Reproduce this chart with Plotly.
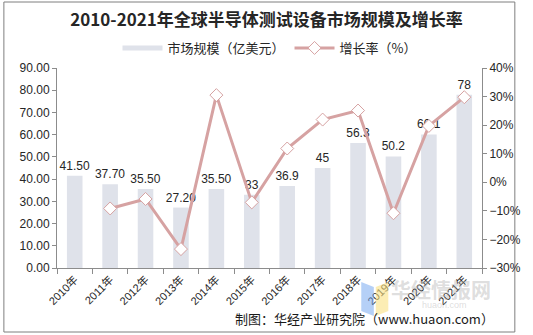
import plotly.graph_objects as go

years = ["2010年", "2011年", "2012年", "2013年", "2014年", "2015年",
         "2016年", "2017年", "2018年", "2019年", "2020年", "2021年"]
market_size = [41.5, 37.7, 35.5, 27.2, 35.5, 33.0, 36.9, 45.0, 56.3, 50.2, 60.1, 78.0]
size_labels = ["41.50", "37.70", "35.50", "27.20", "35.50", "33",
               "36.9", "45", "56.3", "50.2", "60.1", "78"]
growth_years = years[1:]
growth_rate = [-9.16, -5.84, -23.38, 30.51, -7.04, 11.82, 21.95, 25.11, -10.83, 19.72, 29.78]

BAR_COLOR = "#dfe2ea"
LINE_COLOR = "#d6a2a2"
TEXT_COLOR = "#262626"
AXIS_COLOR = "#8c8c8c"
FONT = "Liberation Sans, Noto Sans CJK SC, sans-serif"

fig = go.Figure()

fig.add_trace(go.Bar(
    x=years, y=market_size, name="市场规模（亿美元）", showlegend=False,
    marker=dict(color=BAR_COLOR, line=dict(width=0)),
    width=0.44,
    text=size_labels, textposition="outside", cliponaxis=False, constraintext="none",
    textfont=dict(size=12, color=TEXT_COLOR, family=FONT),
))

# legend key for the bars: a flat wide swatch
fig.add_trace(go.Scatter(
    x=[None], y=[None], name="市场规模（亿美元）", mode="lines",
    line=dict(color=BAR_COLOR, width=5),
))

fig.add_trace(go.Scatter(
    x=growth_years, y=growth_rate, name="增长率（%）", yaxis="y2",
    mode="lines+markers",
    line=dict(color=LINE_COLOR, width=3),
    marker=dict(symbol="diamond", size=10, color="white",
                line=dict(color=LINE_COLOR, width=1)),
    cliponaxis=False,
))

# plot area spans 57..497 px horizontally and 68..268 px vertically
def px_x(x):
    return (x - 57) / 440

def px_y(y):
    return (268 - y) / 200

shapes = [
    # outer frame
    dict(type="rect", xref="paper", yref="paper",
         x0=px_x(2), x1=px_x(531), y0=px_y(332), y1=px_y(2),
         line=dict(color="#7f7f7f", width=1), fillcolor="rgba(0,0,0,0)", layer="below"),
    # watermark logo blocks
    dict(type="path", xref="paper", yref="paper",
         path=f"M {px_x(372)},{px_y(282)} L {px_x(385)},{px_y(287)} L {px_x(385)},{px_y(316)} L {px_x(372)},{px_y(311)} Z",
         fillcolor="rgba(120,170,240,0.55)", line=dict(width=0)),
    dict(type="path", xref="paper", yref="paper",
         path=f"M {px_x(387)},{px_y(287)} L {px_x(400)},{px_y(282)} L {px_x(400)},{px_y(311)} L {px_x(387)},{px_y(316)} Z",
         fillcolor="rgba(250,225,130,0.6)", line=dict(width=0)),
]

annotations = [
    dict(text="制图：华经产业研究院（www.huaon.com）", xref="paper", yref="paper",
         x=px_x(511), y=px_y(318), xanchor="right", yanchor="middle", showarrow=False,
         font=dict(size=13, color="#1a1a1a", family="Noto Sans CJK SC, sans-serif")),
    dict(text="<b>华经情报网</b>", xref="paper", yref="paper",
         x=px_x(455), y=px_y(289), xanchor="center", yanchor="middle", showarrow=False,
         font=dict(size=20, color="rgba(170,170,170,0.4)", family="Noto Sans CJK SC, sans-serif")),
    dict(text="huaon.com", xref="paper", yref="paper",
         x=px_x(458), y=px_y(305), xanchor="center", yanchor="middle", showarrow=False,
         font=dict(size=9, color="rgba(170,170,170,0.4)", family=FONT)),
]

fig.update_layout(
    width=533, height=335,
    margin=dict(l=57, r=36, t=68, b=67),
    paper_bgcolor="white", plot_bgcolor="white",
    font=dict(family=FONT, color=TEXT_COLOR, size=12),
    title=dict(text="<b>2010-2021年全球半导体测试设备市场规模及增长率</b>",
               x=0.5, xanchor="center", y=1 - 20 / 335, yanchor="middle",
               font=dict(size=17, color="#262626", family="Noto Sans CJK SC, serif")),
    legend=dict(orientation="h", x=0.5, xanchor="center", y=px_y(48), yanchor="middle",
                font=dict(size=13, color=TEXT_COLOR, family="Noto Sans CJK SC, sans-serif"),
                itemwidth=40, tracegroupgap=0, bgcolor="rgba(0,0,0,0)"),
    bargap=0.56,
    xaxis=dict(type="category", showgrid=False, showline=True, linecolor=AXIS_COLOR,
               ticks="outside", tickson="boundaries", ticklen=5, tickcolor=AXIS_COLOR,
               tickangle=-45, tickfont=dict(size=11, color=TEXT_COLOR), range=[-0.5, 11.5]),
    yaxis=dict(range=[0, 90], dtick=10, tickformat=".2f", showgrid=False, zeroline=False,
               showline=True, linecolor=AXIS_COLOR, ticks="outside", ticklen=4,
               tickcolor=AXIS_COLOR, tickfont=dict(size=12, color=TEXT_COLOR)),
    yaxis2=dict(range=[-30, 40], dtick=10, ticksuffix="%", overlaying="y", side="right",
                showgrid=False, zeroline=False, showline=True, linecolor=AXIS_COLOR,
                ticks="outside", ticklen=4, tickcolor=AXIS_COLOR,
                tickfont=dict(size=12, color=TEXT_COLOR)),
    shapes=shapes,
    annotations=annotations,
)

fig.write_html("out.html")
